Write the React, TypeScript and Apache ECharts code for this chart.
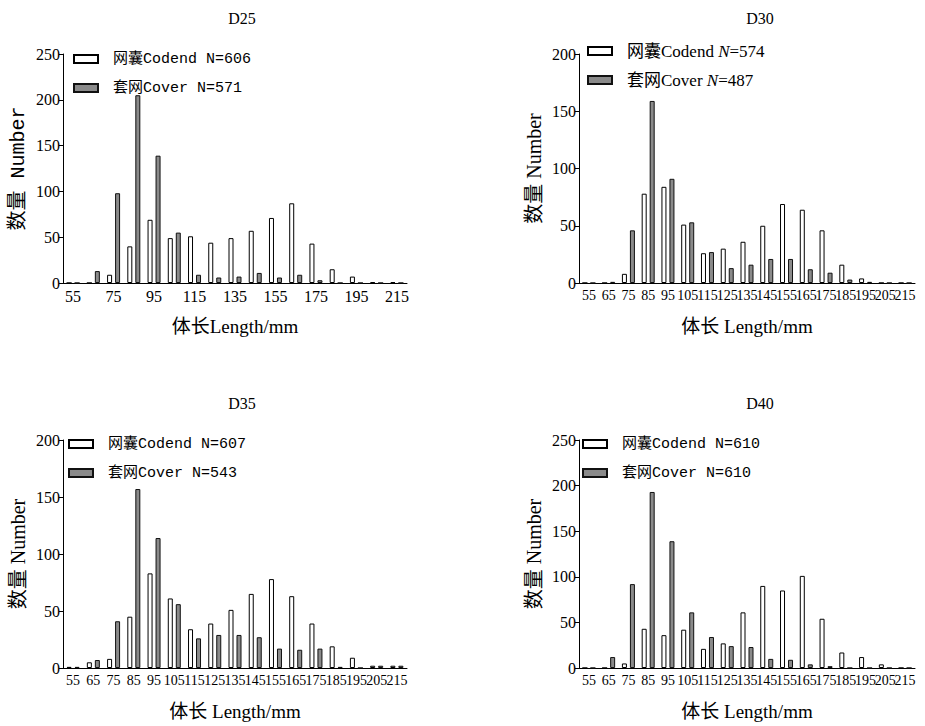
import React, { useEffect, useRef } from "react";
import * as echarts from "echarts";

const categories = ["55", "65", "75", "85", "95", "105", "115", "125", "135", "145", "155", "165", "175", "185", "195", "205", "215"];

const d25Codend = [0, 0, 9, 40, 69, 49, 51, 44, 49, 57, 71, 87, 43, 15, 7, 1, 1];
const d25Cover = [0, 13, 98, 205, 139, 55, 9, 6, 7, 11, 6, 9, 3, 0, 0, 0, 0];
const d30Codend = [0, 0, 8, 78, 84, 51, 26, 30, 36, 50, 69, 64, 46, 16, 4, 0, 0];
const d30Cover = [0, 1, 46, 159, 91, 53, 27, 13, 16, 21, 21, 12, 9, 3, 1, 0, 0];
const d35Codend = [1, 5, 8, 45, 83, 61, 34, 39, 51, 65, 78, 63, 39, 19, 9, 2, 2];
const d35Cover = [1, 7, 41, 157, 114, 56, 26, 29, 29, 27, 17, 16, 17, 1, 0, 2, 2];
const d40Codend = [0, 0, 5, 43, 36, 42, 21, 27, 61, 90, 85, 101, 54, 17, 12, 4, 0];
const d40Cover = [0, 12, 92, 193, 139, 61, 34, 24, 23, 10, 9, 4, 2, 0, 0, 0, 0];

const panelTitles = ["D25", "D30", "D35", "D40"];
const codendNames = ["网囊Codend N=606", "网囊Codend N=574", "网囊Codend N=607", "网囊Codend N=610"];
const coverNames = ["套网Cover N=571", "套网Cover N=487", "套网Cover N=543", "套网Cover N=610"];
const yMax = [250, 200, 200, 250];
const xNames = ["体长Length/mm", "体长 Length/mm", "体长 Length/mm", "体长 Length/mm"];
const yName = "数量 Number";

const SERIF = '"Liberation Serif", "Noto Sans CJK SC", serif';
const MONO = '"Liberation Mono", "Noto Sans CJK SC", monospace';

const codendData = [d25Codend, d30Codend, d35Codend, d40Codend];
const coverData = [d25Cover, d30Cover, d35Cover, d40Cover];

const grids = [
  { left: 63, top: 54, width: 344, height: 229 },
  { left: 579, top: 54, width: 336, height: 229 },
  { left: 63, top: 440, width: 344, height: 228 },
  { left: 579, top: 440, width: 336, height: 228 },
];

const titlePos = [
  [242, 18],
  [760, 18],
  [242, 403],
  [760, 403],
];

const legendPos = [
  { left: 73, top: 50, font: MONO, size: 15 },
  { left: 587, top: 42, font: SERIF, size: 17 },
  { left: 68, top: 435, font: MONO, size: 15 },
  { left: 582, top: 435, font: MONO, size: 15 },
];

export default function App() {
  const ref = useRef<HTMLDivElement>(null);
  useEffect(() => {
    if (!ref.current) return;
    const chart = echarts.init(ref.current, null, { renderer: "svg" });
    const xAxis: any[] = [];
    const yAxis: any[] = [];
    const series: any[] = [];
    const legend: any[] = [];
    const graphic: any[] = [];
    for (let i = 0; i < 4; i++) {
      const sparse = i === 0;
      xAxis.push({
        type: "category",
        gridIndex: i,
        data: categories,
        boundaryGap: true,
        axisLine: { lineStyle: { color: "#000", width: 1 } },
        axisTick: { inside: true, alignWithLabel: true, length: 6, interval: sparse ? 1 : 0, lineStyle: { color: "#000" } },
        axisLabel: { interval: sparse ? 1 : 0, color: "#000", fontFamily: SERIF, fontSize: sparse ? 16 : 14, margin: 5 },
        name: xNames[i],
        nameLocation: "middle",
        nameGap: 34,
        nameTextStyle: { color: "#000", fontFamily: SERIF, fontSize: 19 },
      });
      yAxis.push({
        type: "value",
        gridIndex: i,
        min: 0,
        max: yMax[i],
        interval: 50,
        splitLine: { show: false },
        axisLine: { show: true, lineStyle: { color: "#000", width: 1 } },
        axisTick: { show: true, length: 4, lineStyle: { color: "#000" } },
        axisLabel: { color: "#000", fontFamily: SERIF, fontSize: 16, margin: 3 },
        name: yName,
        nameLocation: "middle",
        nameRotate: 90,
        nameGap: 35,
        nameTextStyle: { color: "#000", fontFamily: i === 0 ? MONO : SERIF, fontSize: 20 },
      });
      series.push({
        type: "bar",
        name: codendNames[i],
        xAxisIndex: i,
        yAxisIndex: i,
        data: codendData[i],
        barWidth: 5,
        barGap: "60%",
        itemStyle: { color: "#ffffff", borderColor: "#000", borderWidth: 1 },
      });
      series.push({
        type: "bar",
        name: coverNames[i],
        xAxisIndex: i,
        yAxisIndex: i,
        data: coverData[i],
        barWidth: 5,
        barGap: "60%",
        itemStyle: { color: "#8a8a8a", borderColor: "#111", borderWidth: 1 },
      });
      const lp = legendPos[i];
      const leg: any = {
        orient: "vertical",
        left: lp.left,
        top: lp.top,
        padding: 0,
        data: [codendNames[i], coverNames[i]],
        icon: "rect",
        itemWidth: 24,
        itemHeight: 8,
        itemGap: 11,
        selectedMode: false,
        textStyle: { color: "#000", fontFamily: lp.font, fontSize: lp.size, lineHeight: 18, padding: [0, 0, 0, 10] },
      };
      if (i === 1) {
        leg.formatter = (name: string) => {
          const parts = name.split("N=");
          return "{a|" + parts[0] + "}{i|N}{a|=" + parts[1] + "}";
        };
        leg.textStyle.rich = {
          a: { fontFamily: SERIF, fontSize: 17, color: "#000" },
          i: { fontFamily: SERIF, fontSize: 17, fontStyle: "italic", color: "#000" },
        };
      }
      legend.push(leg);
      graphic.push({
        type: "text",
        x: titlePos[i][0],
        y: titlePos[i][1],
        style: { text: panelTitles[i], fontFamily: SERIF, fontSize: 16, fill: "#000", align: "center", verticalAlign: "middle" },
      });
    }
    chart.setOption({
      animation: false,
      backgroundColor: "#fff",
      grid: grids.map((g) => ({ ...g, containLabel: false })),
      xAxis,
      yAxis,
      series,
      legend,
      graphic,
    });
    return () => chart.dispose();
  }, []);
  return <div ref={ref} style={{ position: "absolute", left: 0, top: 0, width: 925, height: 726 }} />;
}
